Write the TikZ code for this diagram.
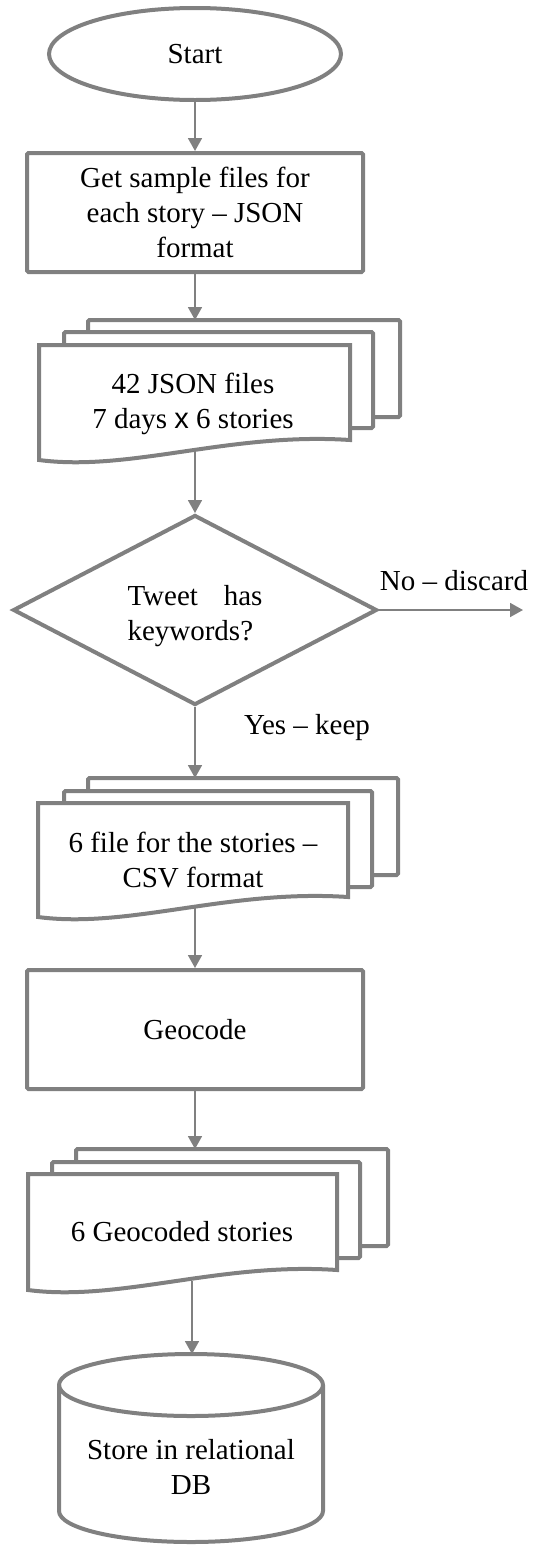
\documentclass[tikz,border=0pt]{standalone}
\usepackage{fontspec}
\setmainfont{Liberation Serif}
\newfontfamily\arialf{Liberation Sans}
\usetikzlibrary{arrows.meta,shapes.geometric}
\definecolor{lg}{RGB}{128,128,128}
\begin{document}
\begin{tikzpicture}[x=1pt,y=-1pt,
  shp/.style={draw=lg, line width=4pt, fill=white},
  arr/.style={draw=lg, line width=1.8pt, -{Triangle[width=14pt,length=13pt]}},
  txt/.style={font=\fontsize{29}{35}\selectfont, align=center, inner sep=0pt, text=black},
]
\useasboundingbox (0,0) rectangle (535,1545);

% Start
\node[shp, ellipse, minimum width=292pt, minimum height=92pt, txt] (start) at (195,54) {Start};

% Box 1
\node[shp, rectangle, rounded corners=1.5pt, minimum width=336pt, minimum height=119pt, txt] (getfiles) at (195,212.5) {Get sample files for\\each story – JSON\\format};

% Doc 1
\draw[shp, rounded corners=1.5pt] (88,320) rectangle (400,417);
\draw[shp, rounded corners=1.5pt] (64,332) rectangle (373,428);
\draw[shp] (39,460) -- (39,345) -- (350,345) -- (350,440) .. controls (230,432) and (130,472) .. (39,460) -- cycle;
\node[txt] (files42) at (193,404) {42 JSON files\\7 days {\arialf x} 6 stories};
\coordinate (d1top) at (195,320);
\coordinate (d1bot) at (195,450);

% Decision
\node[shp, diamond, minimum width=364pt, minimum height=190pt, inner sep=0pt] (dec) at (195,610) {};
\node[txt, align=left] (dtext) at (195,616) {\makebox[135pt][s]{Tweet has}\\keywords?};
\coordinate (noend) at (523,610);
\node[txt] (nolbl) at (454,581) {No – discard};
\node[txt] (yeslbl) at (307,728) {Yes – keep};

% Doc 2
\draw[shp, rounded corners=1.5pt] (88,778) rectangle (398,875);
\draw[shp, rounded corners=1.5pt] (64,791) rectangle (372,887);
\draw[shp] (38,917) -- (38,803) -- (348,803) -- (348,897) .. controls (228,889) and (129,929) .. (38,917) -- cycle;
\node[txt] (csvfiles) at (193,860) {6 file for the stories –\\CSV format};
\coordinate (d2top) at (195,778);
\coordinate (d2bot) at (195,907);

% Geocode
\node[shp, rectangle, rounded corners=1.5pt, minimum width=336pt, minimum height=119pt, txt] (geo) at (195,1029.5) {Geocode};

% Doc 3
\draw[shp, rounded corners=1.5pt] (76,1149) rectangle (388,1246);
\draw[shp, rounded corners=1.5pt] (52,1162) rectangle (360,1258);
\draw[shp] (28,1290) -- (28,1174) -- (337,1174) -- (337,1270) .. controls (220,1262) and (119,1302) .. (28,1290) -- cycle;
\node[txt] (geostories) at (182,1232) {6 Geocoded stories};
\coordinate (d3top) at (195,1149);
\coordinate (d3bot) at (192,1281);

% Cylinder
\draw[shp] (59,1385) -- (59,1511) arc[start angle=180,end angle=360,x radius=132pt,y radius=31pt] -- (323,1385) arc[start angle=0,end angle=180,x radius=132pt,y radius=31pt] -- cycle;
\draw[shp, fill=none] (59,1385) arc[start angle=180,end angle=360,x radius=132pt,y radius=31pt];
\node[txt] (db) at (191,1467) {Store in relational\\DB};
\coordinate (cyltop) at (192,1354);

% Connectors
\draw[arr] (start.south) -- (getfiles.north);
\draw[arr] (getfiles.south) -- (d1top);
\draw[arr] (d1bot) -- (dec.north);
\draw[arr] (dec.east) -- (noend);
\draw[arr] (dec.south) -- (d2top);
\draw[arr] (d2bot) -- (geo.north);
\draw[arr] (geo.south) -- (d3top);
\draw[arr] (d3bot) -- (cyltop);
\end{tikzpicture}
\end{document}
